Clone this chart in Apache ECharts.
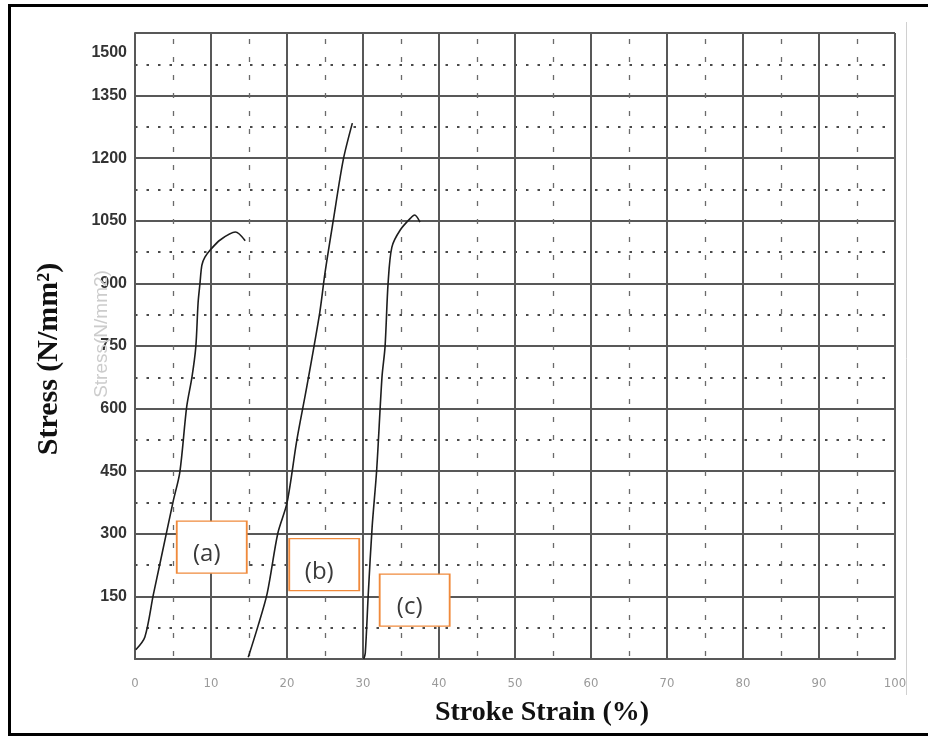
<!DOCTYPE html>
<html>
<head>
<meta charset="utf-8">
<script src="https://cdn.jsdelivr.net/npm/echarts@6/dist/echarts.min.js"></script>
<style>
  html, body { margin: 0; padding: 0; background: #fff; }
  #chart { width: 928px; height: 736px; }
</style>
</head>
<body>
<div id="chart"></div>
<script>
// Stress–strain curves for three specimens, offset along the strain axis
const strainA = [0.1, 1.3, 2.4, 3.3, 5.0, 5.9, 6.8, 7.5, 8.0, 8.3, 8.55, 8.8, 9.2, 9.9, 11.2, 13.2, 14.5];
const stressA = [22, 53, 153, 230, 376, 448, 604, 676, 748, 853, 900, 944, 963, 980, 1004, 1023, 1002];

const strainB = [14.9, 16.2, 17.4, 18.8, 20.0, 21.3, 22.6, 24.3, 25.0, 26.1, 27.4, 28.6];
const stressB = [4, 80, 158, 302, 374, 525, 652, 829, 925, 1052, 1196, 1284];

const strainC = [30.1, 30.3, 30.7, 31.2, 31.8, 32.5, 32.9, 33.3, 33.8, 34.9, 36.4, 36.8, 37.5];
const stressC = [0, 14, 158, 316, 453, 676, 748, 900, 987, 1028, 1059, 1064, 1047];

// Curve tags and where they sit (strain, stress)
const tagText = ['(a)', '(b)', '(c)'];
const tagStrain = [10.1, 24.9, 36.8];
const tagStress = [268, 226, 141];

// Axis ranges and ticks
const strainTicks = [0, 10, 20, 30, 40, 50, 60, 70, 80, 90, 100];
const stressTicks = [0, 150, 300, 450, 600, 750, 900, 1050, 1200, 1350, 1500];

const pairs = (xs, ys) => xs.map((x, i) => [x, ys[i]]);

const gridColor = '#585858';

const chart = echarts.init(document.getElementById('chart'), null, { renderer: 'canvas' });

const curveStyle = { color: '#1e1e1e', width: 1.6 };

chart.setOption({
  animation: false,
  backgroundColor: '#ffffff',
  grid: { left: 135, right: 33, top: 33, bottom: 77, containLabel: false },
  xAxis: {
    type: 'value',
    min: strainTicks[0],
    max: strainTicks[strainTicks.length - 1],
    interval: strainTicks[1] - strainTicks[0],
    name: 'Stroke Strain (%)',
    nameLocation: 'middle',
    nameGap: 40,
    nameTextStyle: {
      fontFamily: '"Liberation Serif", "Times New Roman", serif',
      fontWeight: 'bold',
      fontSize: 28,
      color: '#111',
      padding: [0, 0, 0, 54]
    },
    axisLine: { show: true, lineStyle: { color: gridColor, width: 2 } },
    axisTick: { show: false },
    axisLabel: {
      margin: 18,
      fontFamily: '"Liberation Sans Narrow", "DejaVu Sans Condensed", "Arial Narrow", sans-serif',
      fontSize: 13,
      color: '#9a9a9a'
    },
    splitLine: { show: true, lineStyle: { color: gridColor, width: 2 } },
    minorTick: { show: false, splitNumber: 2 },
    minorSplitLine: { show: true, lineStyle: { color: '#6a6a6a', width: 1.3, type: [5, 13], dashOffset: -6 } }
  },
  yAxis: {
    type: 'value',
    min: stressTicks[0],
    max: stressTicks[stressTicks.length - 1],
    interval: stressTicks[1] - stressTicks[0],
    name: 'Stress (N/mm²)',
    nameLocation: 'middle',
    nameGap: 71,
    nameRotate: 90,
    nameTextStyle: {
      fontFamily: '"Liberation Serif", "Times New Roman", serif',
      fontWeight: 'bold',
      fontSize: 30,
      color: '#111',
      padding: [0, 26, 0, 0]
    },
    axisLine: { show: true, lineStyle: { color: gridColor, width: 2 } },
    axisTick: { show: false },
    axisLabel: {
      margin: 8,
      fontFamily: '"Liberation Sans", Arial, sans-serif',
      fontWeight: 'bold',
      fontSize: 16,
      color: '#333',
      formatter: function (v) {
        if (v === 0) return '';
        if (v === stressTicks[stressTicks.length - 1]) return '{top|' + v + '}';
        return String(v);
      },
      rich: {
        top: {
          fontFamily: '"Liberation Sans", Arial, sans-serif',
          fontWeight: 'bold',
          fontSize: 16,
          color: '#333',
          padding: [40, 0, 0, 0]
        }
      }
    },
    splitLine: { show: true, lineStyle: { color: gridColor, width: 2 } },
    minorTick: { show: false, splitNumber: 2 },
    minorSplitLine: { show: true, lineStyle: { color: '#4a4a4a', width: 2, type: [2.5, 9] } }
  },
  series: [
    {
      name: 'a', type: 'line', data: pairs(strainA, stressA),
      showSymbol: false, smooth: 0.3, lineStyle: curveStyle, z: 3
    },
    {
      name: 'b', type: 'line', data: pairs(strainB, stressB),
      showSymbol: false, smooth: 0.3, lineStyle: curveStyle, z: 3
    },
    {
      name: 'c', type: 'line', data: pairs(strainC, stressC),
      showSymbol: false, smooth: 0.3, lineStyle: curveStyle, z: 3
    },
    {
      name: 'tags', type: 'scatter', z: 5,
      data: tagText.map((t, i) => ({ value: [tagStrain[i], tagStress[i]], name: t })),
      symbol: 'rect',
      symbolSize: [70, 52],
      itemStyle: { color: '#ffffff', borderColor: '#f08a3c', borderWidth: 1.6, opacity: 1 },
      label: {
        show: true,
        position: 'inside',
        formatter: p => p.name,
        fontFamily: '"Open Sans", "Liberation Sans", sans-serif',
        fontSize: 24,
        color: '#3a3a3a',
        offset: [-5, 7]
      },
      emphasis: { disabled: true }
    }
  ],
  graphic: [
    // page frame
    {
      type: 'rect', silent: true, z: 100,
      shape: { x: 9.5, y: 5.5, width: 940, height: 729 },
      style: { fill: null, stroke: '#000', lineWidth: 3 }
    },
    // thin rule to the right of the plot
    {
      type: 'line', silent: true, z: 1,
      shape: { x1: 906.5, y1: 22, x2: 906.5, y2: 695 },
      style: { stroke: '#d0d0d0', lineWidth: 1 }
    },
    // faint secondary axis caption
    {
      type: 'text', silent: true, z: 1,
      x: 102, y: 334, rotation: Math.PI / 2,
      style: {
        text: 'Stress(N/mm2)',
        fontFamily: '"Liberation Sans", Arial, sans-serif',
        fontSize: 19,
        fill: '#cccccc',
        align: 'center',
        verticalAlign: 'middle'
      }
    }
  ]
});
</script>
</body>
</html>
